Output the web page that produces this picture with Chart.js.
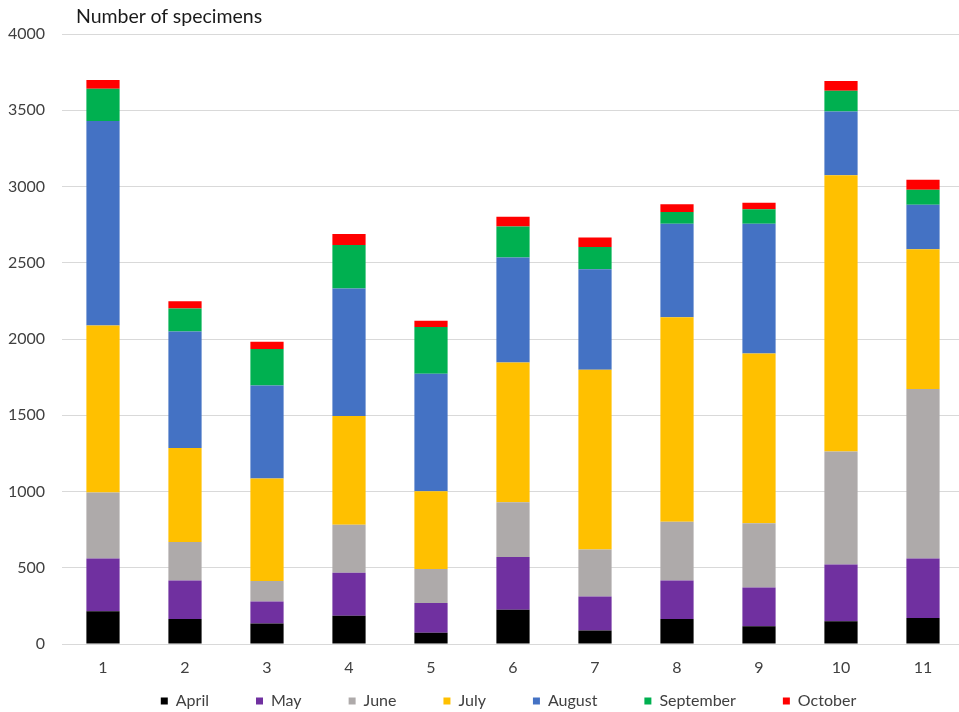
<!DOCTYPE html>
<html>
<head>
<meta charset="utf-8">
<script src="https://cdn.jsdelivr.net/npm/chart.js@4/dist/chart.umd.min.js"></script>
<style>
  html, body { margin: 0; padding: 0; background: #ffffff; overflow: hidden; }
  #wrap { position: relative; width: 959px; height: 712px; overflow: hidden; }
  #chart { position: absolute; left: 0; top: 0; }
  #title { position: absolute; left: 76px; top: 5px; font-family: Lato, "Open Sans", sans-serif; font-size: 19.5px; color: #1a1a1a; white-space: nowrap; line-height: 22px; }
</style>
</head>
<body>
<div id="wrap">
  <canvas id="chart" width="964" height="712"></canvas>
  <div id="title">Number of specimens</div>
</div>
<script>
const categories = ["1", "2", "3", "4", "5", "6", "7", "8", "9", "10", "11"];
const seriesNames = ["April", "May", "June", "July", "August", "September", "October"];
const april     = [214, 164, 134, 186,  73, 225,   88,  164,  116,  149,  171];
const may       = [346, 253, 144, 282, 196, 346,  223,  253,  254,  373,  389];
const june      = [434, 252, 135, 314, 223, 358,  308,  385,  421,  741, 1112];
const july      = [1094, 616, 673, 713, 509, 917, 1179, 1341, 1114, 1811, 917];
const august    = [1342, 764, 609, 836, 771, 688,  660,  612,  850,  417,  292];
const september = [211, 151, 239, 286, 306, 203,  146,   77,   96,  137,   97];
const october   = [58,   48,  48,  72,  41,  64,   61,   52,   43,   64,   67];
const yTicks = [0, 500, 1000, 1500, 2000, 2500, 3000, 3500, 4000];

const seriesValues = [april, may, june, july, august, september, october];
const seriesColors = ["#000000", "#7030A0", "#AEAAAA", "#FFC000", "#4472C4", "#00B050", "#FF0000"];

const datasets = seriesNames.map((name, i) => ({
  label: name,
  data: seriesValues[i],
  backgroundColor: seriesColors[i],
  borderWidth: 0,
  barPercentage: 0.405,
  categoryPercentage: 1.0,
  stack: "s"
}));

const FONT = "Lato, 'Open Sans', sans-serif";
const TICK_SIZE = 16;

// widest y tick label, to right-align mirrored labels outside the plot
const mctx = document.createElement("canvas").getContext("2d");
mctx.font = TICK_SIZE + "px " + FONT;
const widestY = Math.max(...yTicks.map(v => mctx.measureText(String(v)).width));

new Chart(document.getElementById("chart"), {
  type: "bar",
  data: { labels: categories, datasets: datasets },
  options: {
    responsive: false,
    animation: false,
    devicePixelRatio: 1,
    layout: { padding: { left: 53, right: 0, top: 34, bottom: 0 } },
    plugins: {
      title: { display: false },
      tooltip: { enabled: false },
      legend: {
        display: true,
        position: "bottom",
        maxHeight: 66,
        labels: {
          boxWidth: 7,
          boxHeight: 7,
          padding: 47,
          color: "#404040",
          font: { family: FONT, size: 16 }
        }
      }
    },
    scales: {
      x: {
        stacked: true,
        offset: true,
        grid: { display: false, drawTicks: false },
        border: { display: true, color: "#d9d9d9", width: 1 },
        ticks: { color: "#404040", mirror: true, padding: -33, font: { family: FONT, size: TICK_SIZE }, maxRotation: 0, autoSkip: false },
        afterFit: (scale) => { scale.height = 2; }
      },
      y: {
        stacked: true,
        min: 0,
        max: 4000,
        afterBuildTicks: (scale) => { scale.ticks = yTicks.map(v => ({ value: v })); },
        grid: { color: "#d9d9d9", lineWidth: 1, drawTicks: false },
        border: { display: false },
        ticks: {
          color: "#404040", mirror: true, crossAlign: "far", padding: 45 - 62 - widestY,
          font: { family: FONT, size: TICK_SIZE },
          callback: (value) => String(value)
        },
        afterFit: (scale) => { scale.width = 9; }
      }
    }
  }
});
</script>
</body>
</html>
